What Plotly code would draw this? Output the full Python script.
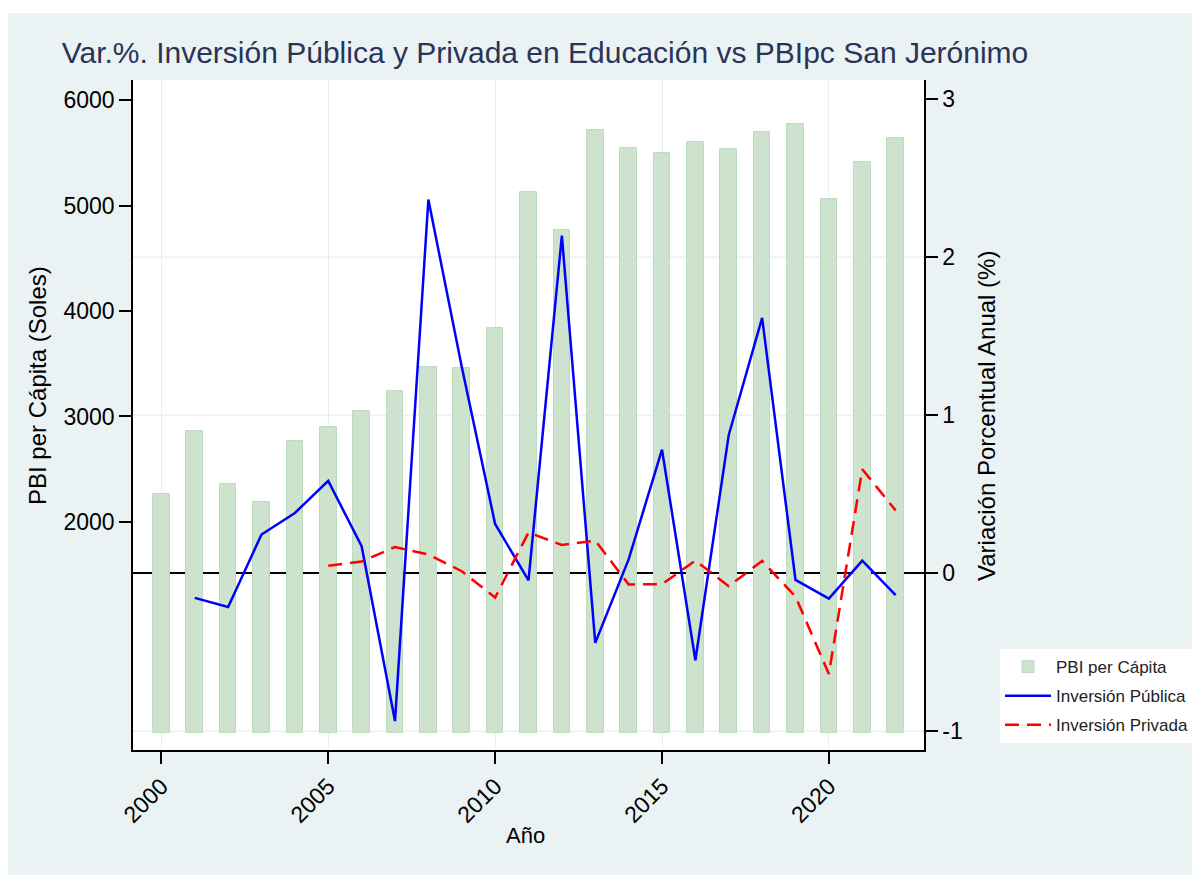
import plotly.graph_objects as go

# data
years = list(range(2000, 2023))
pbi_per_capita = [2267, 2867, 2361, 2189, 2764, 2904, 3048, 3237, 3467, 3455, 3842, 5124,
                  4771, 5716, 5543, 5498, 5601, 5535, 5700, 5777, 5066, 5408, 5638]
inv_publica = [None, -0.157, -0.215, 0.244, 0.381, 0.584, 0.170, -0.937, 2.365, 1.307, 0.311,
               -0.046, 2.137, -0.442, 0.087, 0.782, -0.552, 0.875, 1.616, -0.043, -0.162,
               0.079, -0.140]
inv_privada = [None, None, None, None, None, 0.046, 0.073, 0.165, 0.118, 0.012, -0.155, 0.257,
               0.178, 0.206, -0.072, -0.070, 0.079, -0.083, 0.077, -0.149, -0.639, 0.658, 0.397]
x_ticks = [2000, 2005, 2010, 2015, 2020]
left_ticks = [2000, 3000, 4000, 5000, 6000]
right_ticks = [-1, 0, 1, 2, 3]
right_labels = ["-1", "0", "1", "2", "3"]
right_grid = [-1, 1, 2]

FONT = "Liberation Sans, Arial, sans-serif"
BG = "#EAF2F3"
GRID = "#E6EEF1"

# the page adds an 8px body margin, so work in page pixels and shift
OFF = 8
W, H = 1192, 867
PL, PR, PT, PB = 125, 916, 72, 742


def px(x):
    return (x - OFF - PL) / (PR - PL)


def py(y):
    return (PB - (y - OFF)) / (PB - PT)


fig = go.Figure()
fig.add_trace(go.Bar(x=years, y=pbi_per_capita, name="PBI per Cápita", width=0.5,
                     marker=dict(color="rgb(205,227,205)",
                                 line=dict(color="rgb(190,219,190)", width=1)),
                     legendgroup="a"))
fig.add_trace(go.Scatter(x=years, y=inv_publica, name="Inversión Pública", mode="lines",
                         line=dict(color="#0000FF", width=2.5), yaxis="y2",
                         legendgroup="b"))
fig.add_trace(go.Scatter(x=years, y=inv_privada, name="Inversión Privada", mode="lines",
                         line=dict(color="#FF0000", width=2.5, dash="14px,8px"), yaxis="y2",
                         legendgroup="c"))

shapes = [
    dict(type="rect", xref="paper", yref="paper", x0=-0.5, x1=1.5, y0=-0.5, y1=py(13),
         fillcolor=BG, line=dict(width=0), layer="below"),
    dict(type="rect", xref="paper", yref="paper", x0=0, x1=1, y0=0, y1=1,
         fillcolor="white", line=dict(width=0), layer="below"),
]
for g in right_grid:
    shapes.append(dict(type="line", xref="paper", yref="y2", x0=0, x1=1, y0=g, y1=g,
                       line=dict(color=GRID, width=1.2), layer="below"))
shapes.append(dict(type="line", xref="paper", yref="y2", x0=0, x1=1, y0=0, y1=0,
                   line=dict(color="black", width=2), layer="below"))

axis_common = dict(showline=True, linecolor="black", linewidth=1.5, ticks="outside",
                   ticklen=12, tickwidth=1.5, tickcolor="black", zeroline=False,
                   tickfont=dict(family=FONT, size=23, color="black"))

fig.update_layout(
    width=W, height=H,
    margin=dict(l=PL, r=W - PR, t=PT, b=H - PB, autoexpand=False),
    paper_bgcolor="white", plot_bgcolor="white",
    font=dict(family=FONT),
    title=dict(text="Var.%. Inversión Pública y Privada en Educación vs PBIpc San Jerónimo",
               x=(545 - OFF) / W, xanchor="center", y=1 - (52 - OFF) / H, yanchor="middle",
               yref="container",
               font=dict(family=FONT, size=30, color="#2A3457")),
    xaxis=dict(range=[1999.15, 2022.85], tickvals=x_ticks, tickangle=-45,
               showgrid=True, gridcolor=GRID, gridwidth=1.2, **axis_common),
    yaxis=dict(range=[-162, 6190], tickvals=left_ticks, showgrid=False, **axis_common),
    yaxis2=dict(range=[-1.12, 3.122], tickvals=right_ticks, ticktext=right_labels,
                overlaying="y", side="right", showgrid=False, **axis_common),
    shapes=shapes,
    showlegend=True,
    legend=dict(x=px(1000), xanchor="left", y=py(649), yanchor="top",
                bgcolor="white", borderwidth=0, itemwidth=46, traceorder="grouped",
                tracegroupgap=4, font=dict(family=FONT, size=17, color="#222222")),
    bargap=0,
    annotations=[
        dict(text="PBI per Cápita (Soles)", xref="paper", yref="paper",
             x=px(37), y=py(386), xanchor="center", yanchor="middle",
             textangle=-90, showarrow=False, font=dict(family=FONT, size=24, color="black")),
        dict(text="Variación Porcentual Anual (%)", xref="paper", yref="paper",
             x=px(986), y=py(416), xanchor="center", yanchor="middle",
             textangle=-90, showarrow=False, font=dict(family=FONT, size=24, color="black")),
        dict(text="Año", xref="paper", yref="paper",
             x=px(525), y=py(835), xanchor="center", yanchor="middle",
             showarrow=False, font=dict(family=FONT, size=22, color="black")),
    ],
)

fig.write_html("out.html")
